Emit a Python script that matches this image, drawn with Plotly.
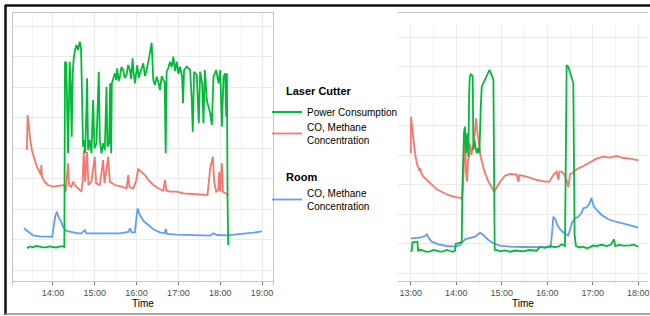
import pandas as pd
import plotly.graph_objects as go

BASE = pd.Timestamp("2015-03-10")

# ---------------- Left panel data (time in decimal hours, arbitrary signal units) ----------------
left_power_t = [13.376, 13.45, 13.52, 13.6, 13.68, 13.76, 13.84, 13.92, 14.0, 14.08, 14.16, 14.22, 14.272, 14.288,
                14.32, 14.344, 14.36, 14.384, 14.40,
                14.424, 14.448, 14.472, 14.496, 14.528, 14.56, 14.6, 14.64, 14.672, 14.696, 14.72, 14.744, 14.768,
                14.8, 14.816, 14.84, 14.88, 14.92, 14.96, 14.992, 15.04, 15.096, 15.12, 15.16, 15.2, 15.24, 15.28,
                15.304, 15.344, 15.368, 15.392, 15.408, 15.44, 15.48, 15.51, 15.536, 15.57, 15.6, 15.64, 15.68,
                15.72, 15.76, 15.8, 15.84, 15.87, 15.904, 15.93, 15.96,
                16.016, 16.05, 16.08, 16.12, 16.16, 16.2, 16.24, 16.304, 16.36, 16.4, 16.44, 16.48, 16.52, 16.56,
                16.6, 16.64, 16.672, 16.696, 16.72, 16.76, 16.8,
                16.84, 16.88, 16.92, 16.96, 17.0, 17.04, 17.088, 17.112, 17.136, 17.2, 17.28, 17.32, 17.344, 17.376,
                17.44, 17.488,
                17.52, 17.568, 17.6, 17.632, 17.68, 17.72, 17.76, 17.8, 17.84, 17.904, 17.96, 18.0, 18.04, 18.08,
                18.12, 18.144, 18.16, 18.176, 18.192]
left_power_v = [32.7, 34.5, 33.7, 35.0, 34.3, 33.6, 33.7, 34.6, 34.0, 33.5, 34.3, 34.8, 34.0, 219.3,
                217.7, 154.3, 127.7, 181, 219.3,
                194.3, 144.3, 207.7, 222.7, 231, 236, 231, 239.3, 232.7, 171, 134.3, 141, 127.7,
                171, 202.7, 131, 141, 127.7, 181, 132.7, 137.7, 209.3, 141, 127.7, 137.7, 131, 194.3,
                134.3, 137.7, 197.7, 127.7, 197.7, 202, 207.7, 201, 212.7, 200, 204.3, 214, 211,
                203, 206, 216, 211, 202, 222.7, 208, 197.7,
                216, 203, 207.7, 212, 217.7, 205, 211, 224.3, 238.3, 201, 196, 204.3, 199, 191,
                205, 201, 199.3, 127.7, 209.3, 213, 219.3,
                214, 224.3, 210, 219.3, 207, 214.3, 204.3, 177.7, 211, 214.3, 211, 181, 149.3, 209.3,
                206, 157.7,
                209.3, 197.7, 157.7, 211, 181, 174.3, 167.7, 156, 204.3, 211, 197.7, 211, 154.3, 204.3,
                207.7, 164.3, 207.7, 81, 36]

left_co_t = [13.376, 13.392, 13.424, 13.456, 13.504, 13.56, 13.616, 13.68, 13.712, 13.72, 13.736, 13.8, 13.88,
             14.0, 14.16, 14.272, 14.304, 14.36, 14.384, 14.44, 14.48, 14.52, 14.6, 14.68, 14.712, 14.736,
             14.768, 14.816, 14.848, 14.92, 15.0, 15.032, 15.12, 15.2, 15.232, 15.32, 15.36, 15.48, 15.64,
             15.76, 15.8, 15.832, 15.92, 15.984, 16.04, 16.12, 16.2, 16.28, 16.4, 16.52, 16.64, 16.68, 16.712,
             16.8, 16.96, 17.12, 17.36, 17.52, 17.696, 17.76, 17.824, 17.856, 17.904, 17.952, 17.976, 18.0,
             18.04, 18.064, 18.144, 18.2]
left_co_v = [131, 166, 154.3, 141, 129.3, 121, 114.3, 109.3, 106, 116, 104.3, 99.3, 96,
             94.3, 95.3, 96, 89.3, 117.7, 96, 94.3, 99.3, 96, 92.7, 89.3, 101, 131,
             99.3, 129.3, 96, 99.3, 124.3, 97.7, 96, 121, 97.7, 124.3, 99.3, 96, 94.3,
             92.7, 106, 93.7, 92.7, 99.3, 111.7, 109.3, 106, 101, 96, 92.7, 90.3, 101, 90.3,
             89.3, 89.3, 87.7, 86.7, 86.7, 86, 112.7, 124.3, 99.3, 89.3, 91, 109.3, 89.3,
             117.7, 89.3, 87.7, 86]

left_room_t = [13.304, 13.36, 13.44, 13.52, 13.68, 13.84, 13.984, 14.016, 14.056, 14.096, 14.128, 14.176, 14.24,
               14.32, 14.44, 14.6, 14.68, 14.76, 14.8, 15.04, 15.28, 15.6, 15.8, 15.84, 15.88, 15.96, 16.0,
               16.024, 16.08, 16.16, 16.28, 16.4, 16.56, 16.672, 16.696, 16.728, 16.96, 17.36, 17.76, 17.84,
               17.92, 18.16, 18.48, 18.8, 19.0]
left_room_v = [52.7, 51, 47.7, 45.7, 44.7, 44.3, 44.3, 54.3, 65, 69.3, 64.3, 61, 54.3,
               50, 48.7, 47.7, 47.7, 51, 47.7, 47.7, 47, 47.7, 49, 52.7, 48.7, 48.7, 64.3,
               72.7, 66, 60.3, 56, 51.7, 48.7, 47.7, 52, 47, 46.3, 45.7, 45.3, 47.7,
               46, 45.7, 46.7, 48.3, 49.7]

# ---------------- Right panel data ----------------
right_power_t = [13.0, 13.022, 13.037, 13.095, 13.146, 13.161, 13.22, 13.278, 13.35, 13.425, 13.5, 13.571, 13.64,
                 13.717, 13.79, 13.864, 13.92, 13.974,
                 13.988, 14.083, 14.12, 14.135, 14.149, 14.171, 14.193, 14.215, 14.245, 14.266, 14.281, 14.296,
                 14.325, 14.362, 14.376, 14.398, 14.42, 14.45, 14.479, 14.508, 14.537, 14.559, 14.611, 14.669,
                 14.728, 14.779, 14.816, 14.83, 14.845, 14.9, 14.962, 15.07, 15.182, 15.3, 15.474, 15.6, 15.767,
                 15.84, 15.95, 16.06, 16.15, 16.243,
                 16.316, 16.389, 16.404, 16.426, 16.462, 16.499, 16.535, 16.572, 16.587, 16.601, 16.63, 16.71,
                 16.792, 16.86,
                 16.939, 17.0, 17.085, 17.2, 17.304, 17.4, 17.466, 17.495, 17.58, 17.67, 17.817, 17.9, 18.0]
right_power_v = [33.3, 34.3, 42.7, 43.3, 43.3, 34.3, 35.2, 34.3, 33.2, 33.7, 35.0, 34.3, 33.3,
                 33.7, 35.1, 34, 33.2, 34.3,
                 41, 42.3, 43.3, 98.3, 125, 153.3, 158.3, 131.7, 151.7, 128.3, 185, 208.3,
                 211, 208.3, 135, 145, 138.3, 131.7, 136.7, 131.7, 175, 198.3, 203.3, 210,
                 215, 210, 205, 118.3, 35, 34.8, 33.7, 34.6, 33.3, 34.5, 33.7, 35.0, 34.3,
                 38.3, 37.2, 39, 38.0, 38.3,
                 40.7, 39, 151.7, 220, 218.3, 213.3, 206.7, 201.7, 118.3, 50, 39, 37.5,
                 38.3, 36.8,
                 37.7, 39.5, 39, 40.2, 39, 40.5, 45.7, 39, 40.1, 39.3, 39.7, 40.3, 38.3]

right_co_t = [13.0, 13.007, 13.029, 13.059, 13.095, 13.132, 13.19, 13.205, 13.227, 13.278, 13.425, 13.571,
              13.717, 13.864, 14.01, 14.098, 14.127, 14.149, 14.171, 14.193, 14.215, 14.237, 14.259, 14.281,
              14.303, 14.332, 14.362, 14.391, 14.42, 14.435, 14.457, 14.479, 14.508, 14.537, 14.581, 14.633,
              14.706, 14.779, 14.837, 14.889, 14.962, 15.072, 15.182, 15.328, 15.365, 15.387, 15.548, 15.767,
              15.95, 16.045, 16.097, 16.148, 16.206, 16.243, 16.265, 16.316, 16.367, 16.426, 16.463, 16.499,
              16.558, 16.646, 16.792, 16.939, 17.085, 17.231, 17.378, 17.524, 17.67, 17.817, 18.0]
right_co_v = [131.7, 168.3, 158.3, 145, 131.7, 121.7, 114.3, 116.7, 112.3, 108.3, 101.7, 95.7,
              92.3, 89.3, 87.7, 87.3, 85, 98.3, 125, 155, 111.7, 103.3, 125, 128.3,
              141.7, 130, 138.3, 141.7, 158.3, 166.7, 155, 148.3, 138.3, 128.3, 120, 111.7,
              103.3, 97.7, 93.3, 97.7, 103.3, 109.3, 111, 110.3, 103.3, 110, 108.3, 105,
              103.3, 103.3, 106.7, 111, 113.3, 105, 113.3, 113.3, 111, 105, 97.7, 111,
              112.3, 115.7, 119, 122.3, 126.3, 128.3, 127.3, 129, 127, 126.3, 124.7]

right_room_t = [13.0, 13.205, 13.315, 13.351, 13.388, 13.461, 13.608, 13.791, 13.974, 14.083, 14.193, 14.303,
                14.413, 14.523, 14.596, 14.706, 14.816, 14.962, 15.182, 15.474, 15.84, 16.075, 16.104, 16.133,
                16.17, 16.221, 16.294, 16.389, 16.463, 16.499, 16.543, 16.609, 16.682, 16.755, 16.792, 16.865,
                16.924, 16.968, 16.997, 17.026, 17.085, 17.195, 17.341, 17.524, 17.744, 18.0]
right_room_v = [46.7, 47.3, 49, 50.7, 47.7, 43.3, 40.7, 39, 38.3, 40, 45.7, 46.7,
                48.3, 52.3, 50, 45, 41.7, 39.3, 38.3, 38, 37.7, 37.7, 51.7, 67.7,
                66.7, 60, 55, 51, 49.7, 55, 62.3, 66.7, 68.3, 72.3, 76.7, 77.7,
                81, 87, 83.3, 78.3, 75, 70, 65.7, 63, 60.7, 57.3]

series_names = ["Power Consumption", "CO, Methane<br>Concentration", "CO, Methane<br>Concentration"]
groups = ["Laser Cutter", "Laser Cutter", "Room"]
colors = ["#00BA38", "#F8766D", "#619CFF"]
legend_ids = ["legend", "legend2", "legend3"]

left_x_range = [13.044, 19.263]
right_x_range = [12.72, 18.213]
left_y_range = [0, 268]
right_y_range = [0, 260]


def to_time(hours):
    return BASE + pd.to_timedelta(pd.Series(hours, dtype=float), unit="h")


fig = go.Figure()

left_sets = [(left_power_t, left_power_v), (left_co_t, left_co_v), (left_room_t, left_room_v)]
right_sets = [(right_power_t, right_power_v), (right_co_t, right_co_v), (right_room_t, right_room_v)]

order = [2, 1, 0]  # draw blue first, then red, green on top
for i in order:
    t, v = left_sets[i]
    fig.add_trace(go.Scatter(x=to_time(t), y=v, mode="lines", name=series_names[i],
                             line=dict(color=colors[i], width=1.8), legendgroup=groups[i],
                             legend=legend_ids[i], xaxis="x", yaxis="y"))
for i in order:
    t, v = right_sets[i]
    fig.add_trace(go.Scatter(x=to_time(t), y=v, mode="lines", name=series_names[i],
                             line=dict(color=colors[i], width=1.8), legendgroup=groups[i],
                             showlegend=False, xaxis="x2", yaxis="y2"))

W, H = 650, 316
grid = "#EBEBEB"
border = "#C4C4C4"


def px(x):
    return x / W


def py(y):
    return 1 - y / H


def xaxis_style(dom, rng):
    return dict(domain=dom, type="date", range=[to_time([rng[0]])[0], to_time([rng[1]])[0]],
                tickformat="%H:%M", dtick=3600000, tick0=BASE, showgrid=True, gridcolor=grid, gridwidth=1,
                minor=dict(dtick=1800000, showgrid=True, gridcolor="#F3F3F3", gridwidth=0.6),
                showline=True, linecolor=border, linewidth=1, mirror=True,
                ticks="outside", ticklen=3, tickcolor="#777777", tickwidth=1,
                tickfont=dict(size=9, color="#4D4D4D"), automargin=False,
                title=dict(text="Time", font=dict(size=10, color="#000000"), standoff=0),
                zeroline=False)


def yaxis_style(dom, rng, t0, dt):
    return dict(domain=dom, range=rng, tick0=t0, dtick=dt, showticklabels=False, showgrid=True,
                gridcolor=grid, gridwidth=1, showline=True, linecolor=border, linewidth=1, mirror=True,
                ticks="", zeroline=False, automargin=False)


def legend_style(ycenter):
    return dict(x=px(267), y=py(ycenter), xanchor="left", yanchor="middle", bgcolor="rgba(0,0,0,0)",
                font=dict(size=10, color="#000000"), itemwidth=30, borderwidth=0)


annotations = [
    dict(text="<b>Laser Cutter</b>", x=px(284), y=py(91), xref="paper", yref="paper", xanchor="left",
         yanchor="middle", showarrow=False, font=dict(size=11, color="#000000")),
    dict(text="<b>Room</b>", x=px(284), y=py(177), xref="paper", yref="paper", xanchor="left",
         yanchor="middle", showarrow=False, font=dict(size=11, color="#000000")),
]

fig.update_layout(
    width=W, height=H, margin=dict(l=0, r=0, t=0, b=0, autoexpand=False),
    paper_bgcolor="white", plot_bgcolor="white",
    font=dict(family="Liberation Sans, Arial, sans-serif", color="#000000"),
    xaxis=xaxis_style([px(13), px(273)], left_x_range),
    yaxis=yaxis_style([py(281), py(13)], left_y_range, 11, 30.5),
    xaxis2=xaxis_style([px(398), px(648)], right_x_range),
    yaxis2=yaxis_style([py(285), py(25)], right_y_range, 12, 29.5),
    legend=legend_style(112),
    legend2=legend_style(133.5),
    legend3=legend_style(199.5),
    showlegend=True,
    annotations=annotations,
    shapes=[
        dict(type="line", xref="paper", yref="paper", x0=px(5), x1=1, y0=py(5.5), y1=py(5.5),
             line=dict(color="#111111", width=2.5), layer="above"),
        dict(type="line", xref="paper", yref="paper", x0=px(5.5), x1=px(5.5), y0=py(5), y1=py(315),
             line=dict(color="#111111", width=2.5), layer="above"),
        dict(type="line", xref="paper", yref="paper", x0=px(5), x1=1, y0=py(314), y1=py(314),
             line=dict(color="#888888", width=1.5), layer="above"),
    ],
)

fig.write_html("out.html", config={"displayModeBar": False},
               post_script="document.documentElement.style.margin='0';document.body.style.margin='0';"
                           "document.body.style.overflow='hidden';")
